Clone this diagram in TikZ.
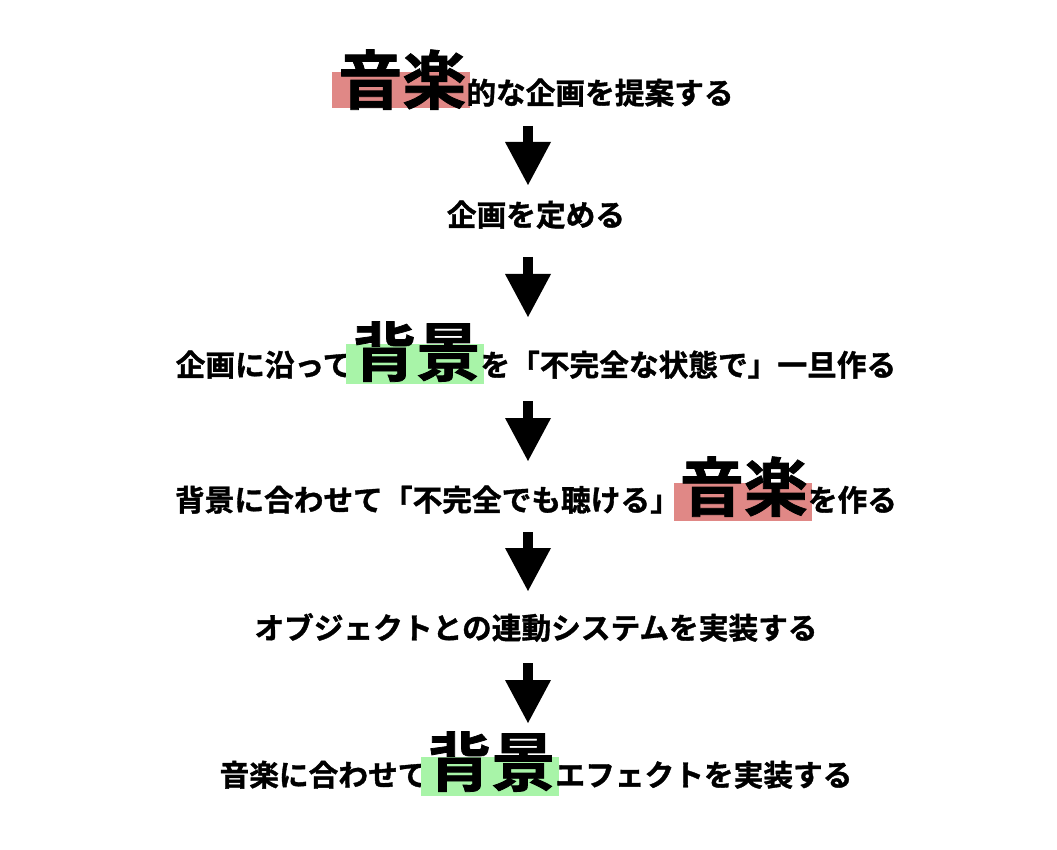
\documentclass[tikz,border=0pt]{standalone}
\usepackage{fontspec}
\usetikzlibrary{arrows.meta}
\newfontfamily\jp{Noto Sans CJK JP}[BoldFont={Noto Sans CJK JP Bold},BoldFeatures={FakeBold=1.2}]
\definecolor{hlred}{RGB}{224,136,134}
\definecolor{hlgreen}{RGB}{168,244,168}
\newcommand\smallsz{\fontsize{29.7}{32}\selectfont}
\newcommand\bigsz{\fontsize{64}{66}\selectfont}
% \hlbig{colour}{depth}{height}{text}
\newcommand\hlbig[4]{\setbox0\hbox{\bigsz #4}\rlap{\kern-6pt\textcolor{#1}{\rule[-#2pt]{\dimexpr\wd0+10pt\relax}{\dimexpr #2pt+#3pt\relax}}}\box0}
\tikzset{
  line/.style={inner sep=0pt, outer sep=0pt, anchor=base, font=\jp\bfseries\smallsz},
  fatarrow/.style={line width=10pt, line cap=butt, -{Triangle[width=46pt,length=43pt,line width=0pt]}}
}
\begin{document}
\begin{tikzpicture}[x=1pt,y=-1pt]
\useasboundingbox (0,0) rectangle (1057,850);
\fill[white] (0,0) rectangle (1057,850);
\node[line] (l1) at (536,104) {\hlbig{hlred}{4}{32}{音楽}的な企画を提案する};
\node[line] (l2) at (536,226) {企画を定める};
\node[line] (l3) at (536,376) {企画に沿って\hlbig{hlgreen}{8}{32}{背景}を「不完全な状態で」一旦作る};
\node[line] (l4) at (536,511) {背景に合わせて「不完全でも聴ける」\hlbig{hlred}{10}{28}{音楽}を作る};
\node[line] (l5) at (536,639) {オブジェクトとの連動システムを実装する};
\node[line] (l6) at (536,786) {音楽に合わせて\hlbig{hlgreen}{10}{29}{背景}エフェクトを実装する};
\coordinate (a1s) at (528,126); \coordinate (a1e) at (528,185);
\coordinate (a2s) at (528,257); \coordinate (a2e) at (528,317);
\coordinate (a3s) at (528,401); \coordinate (a3e) at (528,461);
\coordinate (a4s) at (528,532); \coordinate (a4e) at (528,591);
\coordinate (a5s) at (528,663); \coordinate (a5e) at (528,723);
\draw[fatarrow] (a1s) -- (a1e);
\draw[fatarrow] (a2s) -- (a2e);
\draw[fatarrow] (a3s) -- (a3e);
\draw[fatarrow] (a4s) -- (a4e);
\draw[fatarrow] (a5s) -- (a5e);
\end{tikzpicture}
\end{document}
